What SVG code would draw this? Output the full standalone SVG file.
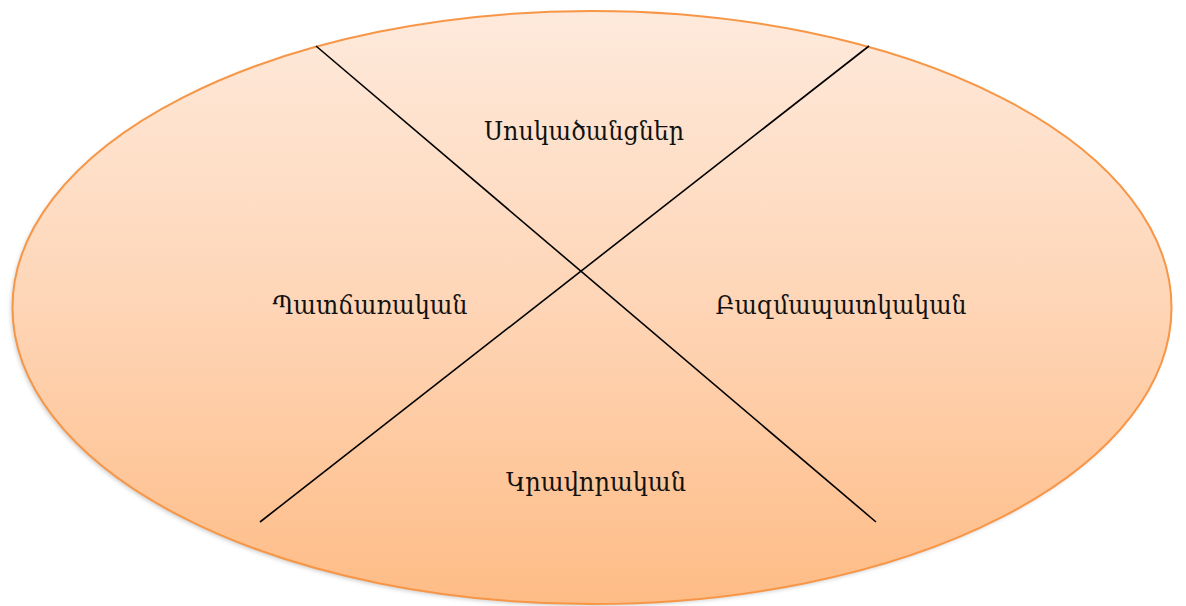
<svg xmlns="http://www.w3.org/2000/svg" width="1186" height="606" viewBox="0 0 1186 606">
<defs>
<linearGradient id="g" x1="0" y1="0" x2="0" y2="1">
<stop offset="0" stop-color="#FEEADC"/>
<stop offset="0.5" stop-color="#FED5B6"/>
<stop offset="1" stop-color="#FEBC86"/>
</linearGradient>
<filter id="sh" x="-5%" y="-5%" width="110%" height="115%">
<feGaussianBlur stdDeviation="2"/>
</filter>
<style>
.lbl{font-family:"DejaVu Serif","Liberation Serif",serif;font-size:26px;fill:#111;text-anchor:middle}
.ln{stroke:#000;stroke-width:1.6;fill:none}
</style>
</defs>
<g id="oval">
<ellipse cx="590" cy="310" rx="579" ry="296" fill="#999" opacity="0.5" filter="url(#sh)"/>
<ellipse cx="592" cy="307.5" rx="579.5" ry="296.5" fill="url(#g)" stroke="#F79646" stroke-width="2"/>
</g>
<g id="connectors">
<line class="ln" x1="316" y1="46" x2="876" y2="522"/>
<line class="ln" x1="869" y1="46" x2="260" y2="522"/>
</g>
<g id="n-top"><text class="lbl" x="584" y="140" textLength="200" lengthAdjust="spacingAndGlyphs">Սոսկածանցներ</text></g>
<g id="n-left"><text class="lbl" x="370" y="314" textLength="195" lengthAdjust="spacingAndGlyphs">Պատճառական</text></g>
<g id="n-right"><text class="lbl" x="841" y="314" textLength="251" lengthAdjust="spacingAndGlyphs">Բազմապատկական</text></g>
<g id="n-bottom"><text class="lbl" x="596" y="491" textLength="180" lengthAdjust="spacingAndGlyphs">Կրավորական</text></g>
</svg>
